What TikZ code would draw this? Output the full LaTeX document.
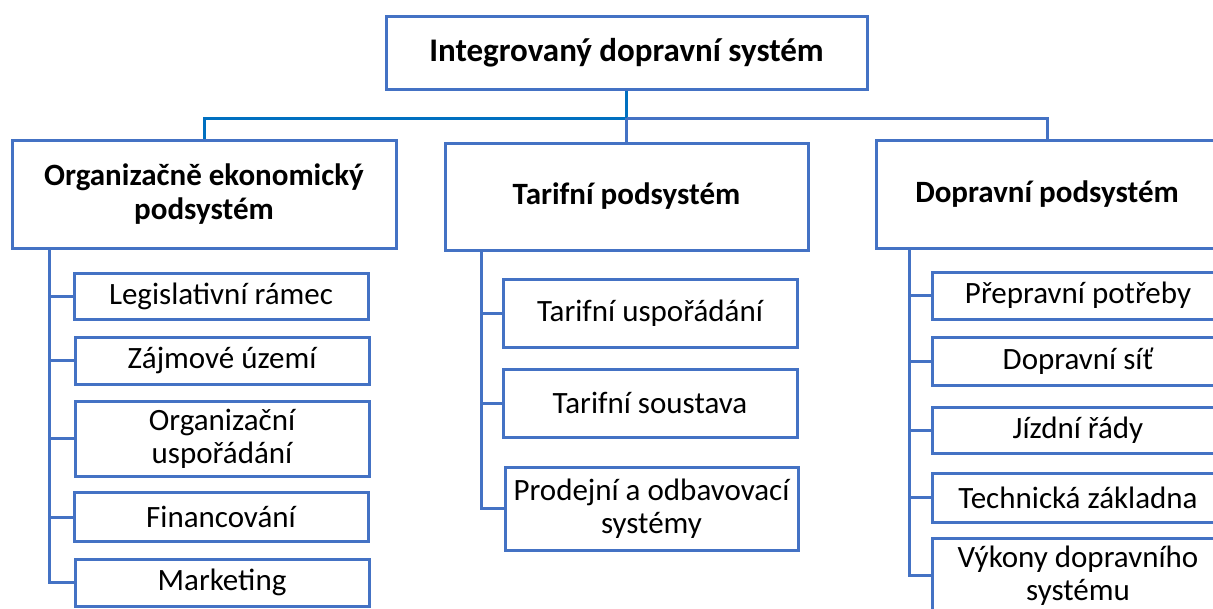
\documentclass[tikz,border=0pt]{standalone}
\usepackage{fontspec}
\setmainfont{Carlito}
\definecolor{boxblue}{HTML}{4472C4}
\definecolor{darkblue}{HTML}{0070C0}
\begin{document}
\begin{tikzpicture}[x=1pt,y=-1pt,
  box/.style={draw=boxblue, line width=3pt, fill=white, inner sep=2pt, align=center, text=black},
  head/.style={box, font=\fontsize{31}{34}\selectfont\bfseries},
  item/.style={box, font=\fontsize{31}{33}\selectfont},
  conn/.style={draw=boxblue, line width=3pt},
  dconn/.style={draw=darkblue, line width=3pt}]
\useasboundingbox (0,0) rectangle (1213,608);
\clip (0,0) rectangle (1213,608);
% top
\node[head, minimum width=481pt, minimum height=73pt, font=\fontsize{33}{38}\selectfont\bfseries] (top) at (626.5,52.5) {Integrovaný dopravní systém};
% headings
\node[head, minimum width=384pt, minimum height=108pt] (L) at (204,194) {Organizačně ekonomický\\podsystém};
\node[head, minimum width=363pt, minimum height=107pt] (M) at (626.5,196.5) {Tarifní podsystém};
\node[head, minimum width=342pt, minimum height=108pt] (R) at (1047,194) {Dopravní podsystém};
% connectors top
\coordinate (jn) at (626.5,118);
\draw[dconn] (top.south) -- (jn);
\draw[dconn] (jn) -| (L.north);
\draw[conn] (jn) -| (R.north);
\draw[conn] (jn) -- (M.north);
% left children
\node[item, minimum width=294pt, minimum height=46pt] (L1) at (221,296) {Legislativní rámec};
\node[item, minimum width=294pt, minimum height=47pt] (L2) at (222,360.5) {Zájmové území};
\node[item, minimum width=294pt, minimum height=75pt] (L3) at (222,438.5) {Organizační\\uspořádání};
\node[item, minimum width=294pt, minimum height=49pt] (L4) at (221,517) {Financování};
\node[item, minimum width=294pt, minimum height=47pt] (L5) at (222,582.5) {Marketing};
\coordinate (Lv) at ([xshift=39pt]L.south west);
\draw[conn] (Lv) |- (L5.west);
\foreach \n in {L1,L2,L3,L4}{\draw[conn] (Lv |- \n.west) -- (\n.west);}
% middle children
\node[item, minimum width=294pt, minimum height=68pt] (M1) at (650,313) {Tarifní uspořádání};
\node[item, minimum width=294pt, minimum height=68pt] (M2) at (650,403) {Tarifní soustava};
\node[item, minimum width=293pt, minimum height=83pt] (M3) at (651.5,508.5) {Prodejní a odbavovací\\systémy};
\coordinate (Mv) at ([xshift=38pt]M.south west);
\draw[conn] (Mv) |- (M3.west);
\foreach \n in {M1,M2}{\draw[conn] (Mv |- \n.west) -- (\n.west);}
% right children
\node[item, minimum width=292pt, minimum height=47pt] (R1) at (1078,295.5) {Přepravní potřeby};
\node[item, minimum width=292pt, minimum height=48pt] (R2) at (1078,361) {Dopravní síť};
\node[item, minimum width=292pt, minimum height=46pt] (R3) at (1078,430) {Jízdní řády};
\node[item, minimum width=292pt, minimum height=49pt] (R4) at (1078,497.5) {Technická základna};
\node[item, minimum width=292pt, minimum height=75pt] (R5) at (1078,575.5) {Výkony dopravního\\systému};
\coordinate (Rv) at ([xshift=35pt]R.south west);
\draw[conn] (Rv) |- (R5.west);
\foreach \n in {R1,R2,R3,R4}{\draw[conn] (Rv |- \n.west) -- (\n.west);}
\end{tikzpicture}
\end{document}
